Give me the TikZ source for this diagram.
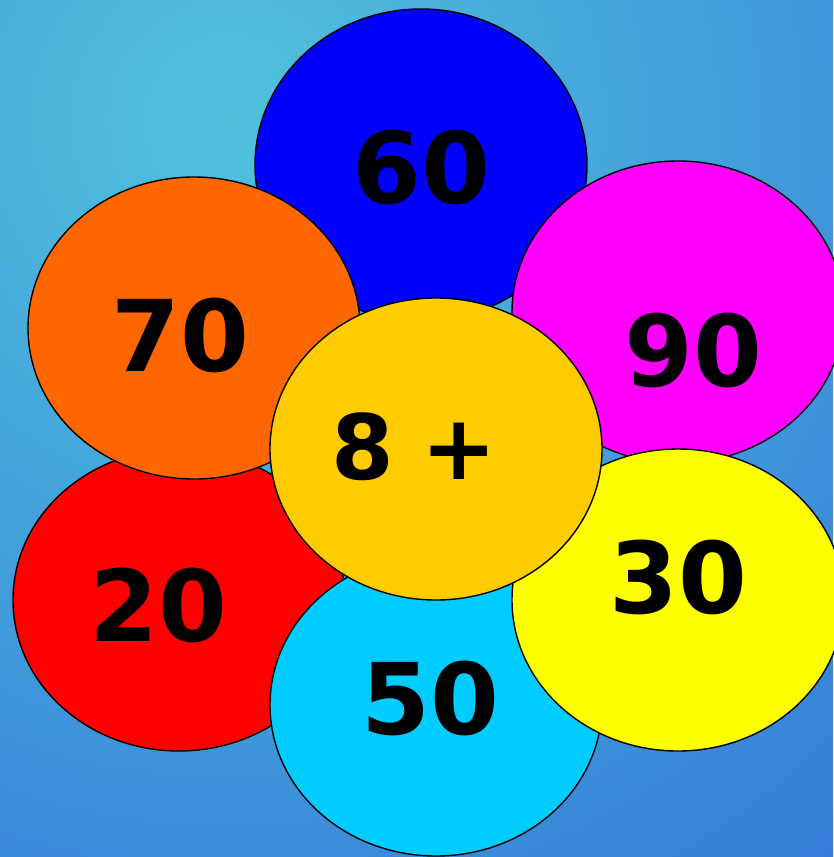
\documentclass[tikz,border=0pt]{standalone}
\usepackage{fontspec}
\setmainfont{DejaVu Sans}
\usetikzlibrary{shapes.geometric}
\definecolor{bgin}{HTML}{50C2DC}
\definecolor{bgout}{HTML}{3172D9}
\definecolor{cBlue}{HTML}{0000FF}
\definecolor{cOrange}{HTML}{FF6600}
\definecolor{cMagenta}{HTML}{FF00FF}
\definecolor{cRed}{HTML}{FF0000}
\definecolor{cCyan}{HTML}{00CCFF}
\definecolor{cYellow}{HTML}{FFFF00}
\definecolor{cCenter}{HTML}{FFCC00}
\begin{document}
\begin{tikzpicture}[x=1pt,y=-1pt,
  petal/.style={ellipse,draw=black,line width=1.4pt,inner sep=0pt,minimum width=332pt,minimum height=302pt},
  num/.style={font=\fontsize{99}{99}\selectfont\bfseries,text=black,inner sep=0pt}]
\useasboundingbox (0,0) rectangle (833,857);
\begin{scope}
  \clip (0,0) rectangle (833,857);
  \shade[inner color=bgin,outer color=bgout] (230,120) circle (1100pt);
\end{scope}
\node[petal,fill=cBlue,minimum height=312pt] (p60) at (421,165) {};
\node[petal,fill=cMagenta] (p90) at (678,312) {};
\node[petal,fill=cRed] (p20) at (179,600) {};
\node[petal,fill=cOrange] (p70) at (194,328) {};
\node[petal,fill=cCyan] (p50) at (436,705) {};
\node[petal,fill=cYellow] (p30) at (678,600) {};
\node[petal,fill=cCenter] (pc) at (436,449) {};
\node[num] (t60) at (421,167) {60};
\node[num] (t70) at (180,335) {70};
\node[num] (t90) at (693,350) {90};
\node[num] (t20) at (158,605) {20};
\node[num] (t30) at (678,577) {30};
\node[num] (t50) at (430,698) {50};
\node[num,font=\fontsize{90}{90}\selectfont\bfseries] (tc) at (414,447) {8\hspace{0.3em}+};
\end{tikzpicture}
\end{document}
